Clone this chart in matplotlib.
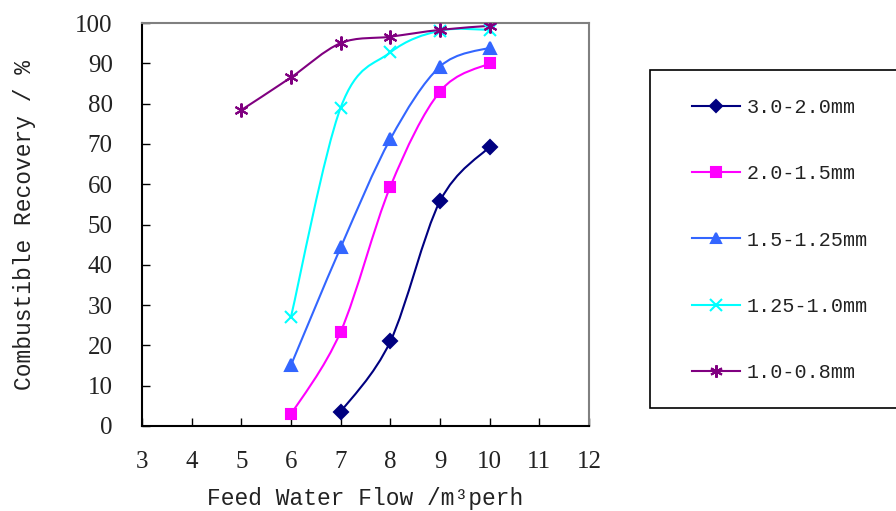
import matplotlib as mpl
mpl.use("Agg")
import matplotlib.pyplot as plt
from matplotlib.path import Path
from matplotlib.patches import PathPatch, Rectangle
from matplotlib.lines import Line2D

# readings (feed water flow, recovery %)
labels = ["3.0-2.0mm", "2.0-1.5mm", "1.5-1.25mm", "1.25-1.0mm", "1.0-0.8mm"]
flow_a = [7, 8, 9, 10]
rec_a = [3.5, 21.0, 55.8, 69.3]
flow_b = [6, 7, 8, 9, 10]
rec_b = [2.9, 23.4, 59.4, 83.0, 90.0]
flow_c = [6, 7, 8, 9, 10]
rec_c = [15.1, 44.3, 71.2, 89.2, 93.9]
flow_d = [6, 7, 8, 9, 10]
rec_d = [27.1, 79.0, 92.7, 98.1, 98.3]
flow_e = [5, 6, 7, 8, 9, 10]
rec_e = [78.4, 86.5, 95.0, 96.6, 98.3, 99.3]

colors = ["#000080", "#FF00FF", "#3366FF", "#00FFFF", "#800080"]
markers = ["D", "s", "^", "x", (6, 2, 0)]
msizes = [7.5, 7.5, 8.5, 9, 10]

SERIF = ["Liberation Serif", "DejaVu Serif"]
MONO = ["Liberation Mono", "DejaVu Sans Mono"]


def smooth_path(xs, ys):
    # Catmull-Rom style bezier through the points (like a smoothed spreadsheet line)
    pts = list(zip(xs, ys))
    verts = [pts[0]]
    codes = [Path.MOVETO]
    n = len(pts)
    for i in range(n - 1):
        p0 = pts[i - 1] if i > 0 else pts[i]
        p1, p2 = pts[i], pts[i + 1]
        p3 = pts[i + 2] if i + 2 < n else pts[i + 1]
        c1 = (p1[0] + (p2[0] - p0[0]) / 6, p1[1] + (p2[1] - p0[1]) / 6)
        c2 = (p2[0] - (p3[0] - p1[0]) / 6, p2[1] - (p3[1] - p1[1]) / 6)
        verts += [c1, c2, p2]
        codes += [Path.CURVE4] * 3
    return Path(verts, codes)


fig = plt.figure(figsize=(8.96, 5.11), dpi=100)
ax = fig.add_axes([142 / 896, 1 - 426 / 511, 447 / 896, 403 / 511])

series = [(flow_a, rec_a), (flow_b, rec_b), (flow_c, rec_c), (flow_d, rec_d), (flow_e, rec_e)]
handles = []
for (xs, ys), c, m, ms, lab in zip(series, colors, markers, msizes, labels):
    ax.add_patch(PathPatch(smooth_path(xs, ys), facecolor="none", edgecolor=c, lw=1.5, zorder=2))
    ax.plot(xs, ys, linestyle="none", marker=m, color=c, markersize=ms, mew=1.5, zorder=3)
    handles.append(Line2D([], [], color=c, lw=1.5, marker=m, markersize=ms - 1, mew=1.5, label=lab))

ax.set_xlim(3, 12)
ax.set_ylim(0, 100)
ax.set_xticks(range(3, 13))
ax.set_yticks(range(0, 101, 10))
ax.tick_params(axis="both", direction="in", length=6, width=1, colors="black")
ax.tick_params(axis="y", pad=21)
ax.tick_params(axis="x", pad=18)
for t in ax.get_xticklabels() + ax.get_yticklabels():
    t.set_fontfamily(SERIF)
    t.set_fontsize(18)
    t.set_color("#222222")
for s in ["left", "bottom"]:
    ax.spines[s].set_color("black")
    ax.spines[s].set_linewidth(1.5)
for s in ["top", "right"]:
    ax.spines[s].set_color("#808080")
    ax.spines[s].set_linewidth(1.5)

ax.set_ylabel("Combustible Recovery / %", family=MONO, fontsize=16.5, color="#222222", labelpad=28)
ax.set_xlabel("Feed Water Flow /m\u00b3perh", family=MONO, fontsize=16.5, color="#222222", labelpad=10)

fig.patches.append(Rectangle((650 / 896, 1 - 408 / 511), 260 / 896, 338 / 511,
                             transform=fig.transFigure, facecolor="white",
                             edgecolor="black", lw=1.2, clip_on=False))
leg = fig.legend(handles=handles, loc="center left", bbox_to_anchor=(692 / 896, 1 - 240 / 511),
                 frameon=False, prop={"family": MONO, "size": 14.5}, handlelength=2.4,
                 handletextpad=0.3, labelspacing=2.35, borderpad=0, borderaxespad=0)
for t in leg.get_texts():
    t.set_color("#222222")

fig.savefig("out.png", dpi=100)
